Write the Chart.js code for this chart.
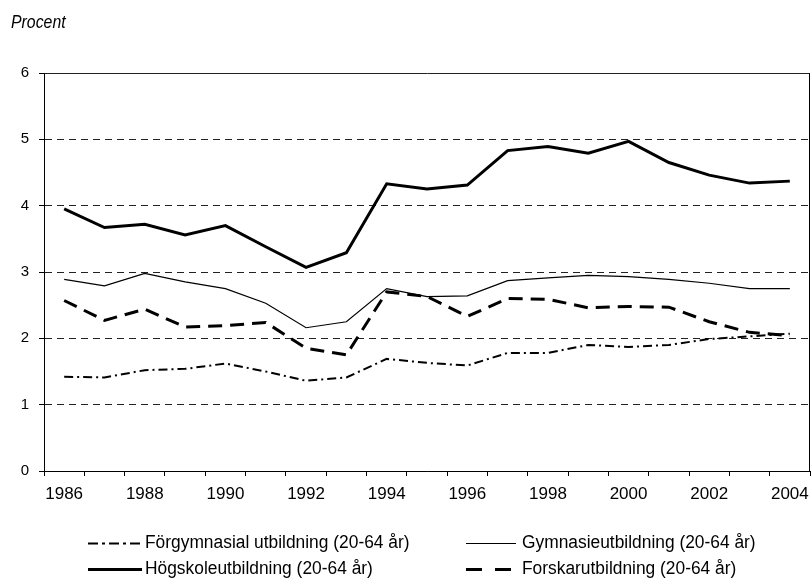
<!DOCTYPE html>
<html>
<head>
<meta charset="utf-8">
<script src="https://cdn.jsdelivr.net/npm/chart.js@4.4.0/dist/chart.umd.min.js"></script>
<style>
  html, body { margin: 0; padding: 0; background: #fff; }
  #wrap { position: relative; width: 811px; height: 579px; }
</style>
</head>
<body>
<div id="wrap"><canvas id="edu-chart"></canvas></div>
<script>
//
// Data
//
const years = ['1986', '1987', '1988', '1989', '1990', '1991', '1992', '1993', '1994', '1995',
    '1996', '1997', '1998', '1999', '2000', '2001', '2002', '2003', '2004'];

const forgymnasial = [1.42, 1.41, 1.52, 1.54, 1.62, 1.50, 1.36, 1.41, 1.69, 1.63,
    1.59, 1.78, 1.78, 1.90, 1.87, 1.90, 1.99, 2.03, 2.07];
const gymnasie = [2.89, 2.79, 2.98, 2.85, 2.75, 2.53, 2.16, 2.25, 2.75, 2.63,
    2.64, 2.87, 2.91, 2.95, 2.93, 2.89, 2.83, 2.75, 2.75];
const hogskole = [3.95, 3.67, 3.72, 3.56, 3.70, 3.38, 3.07, 3.29, 4.33, 4.25,
    4.31, 4.83, 4.89, 4.79, 4.97, 4.65, 4.46, 4.34, 4.37];
const forskar = [2.57, 2.27, 2.44, 2.17, 2.19, 2.24, 1.85, 1.75, 2.70, 2.63,
    2.33, 2.60, 2.59, 2.46, 2.48, 2.47, 2.25, 2.09, 2.04];

const seriesNames = [
    'Förgymnasial utbildning (20-64 år)',
    'Gymnasieutbildning (20-64 år)',
    'Högskoleutbildning (20-64 år)',
    'Forskarutbildning (20-64 år)'
];

const yTicks = [0, 1, 2, 3, 4, 5, 6];

const narrow = "'Liberation Sans Narrow', 'Arial Narrow', 'Liberation Sans', Arial, sans-serif";
const regular = "'Liberation Sans', Arial, sans-serif";

// legend placement (x of line start, line length, text x, row y)
const legendPos = [
    { x: 88, w: 54, tx: 145, y: 543 },
    { x: 466, w: 50, tx: 522, y: 543 },
    { x: 88, w: 54, tx: 145, y: 569 },
    { x: 466, w: 50, tx: 522, y: 569 }
];
const legendDash = [[10, 4, 3, 4], [], [], [16, 13]];

// draws text squeezed a little, the original uses a condensed face
function narrowText(ctx, text, x, y, squeeze) {
    ctx.save();
    ctx.translate(x, y);
    ctx.scale(squeeze, 1);
    ctx.fillText(text, 0, 0);
    ctx.restore();
}

//
// Plugins - title, right border and two column legend
//
const extrasPlugin = {
    id: 'extras',
    afterDraw(chart) {
        const ctx = chart.ctx;
        const area = chart.chartArea;
        ctx.save();

        // right border of the plot
        ctx.strokeStyle = '#000';
        ctx.lineWidth = 1;
        ctx.setLineDash([]);
        ctx.beginPath();
        ctx.moveTo(Math.round(area.right) - 0.5, area.top);
        ctx.lineTo(Math.round(area.right) - 0.5, area.bottom);
        ctx.stroke();

        // "Procent"
        ctx.fillStyle = '#000';
        ctx.font = 'italic 18px ' + narrow;
        ctx.textBaseline = 'middle';
        ctx.textAlign = 'left';
        narrowText(ctx, 'Procent', 11, 23, 0.88);

        // legend
        ctx.font = '18px ' + narrow;
        chart.data.datasets.forEach((ds, i) => {
            const p = legendPos[i];
            ctx.strokeStyle = ds.borderColor;
            ctx.lineWidth = ds.borderWidth;
            ctx.setLineDash(legendDash[i]);
            ctx.beginPath();
            ctx.moveTo(p.x, p.y + 0.5);
            ctx.lineTo(p.x + p.w, p.y + 0.5);
            ctx.stroke();
            narrowText(ctx, ds.label, p.tx, p.y, 0.965);
        });
        ctx.restore();
    }
};

//
// Chart
//
const eduCanvas = document.getElementById('edu-chart');

let eduData = {
    labels: years,
    datasets: [{
        label: seriesNames[0],
        data: forgymnasial,
        borderColor: '#000',
        borderWidth: 2,
        borderDash: [9, 4, 2, 4],
    }, {
        label: seriesNames[1],
        data: gymnasie,
        borderColor: '#000',
        borderWidth: 1.2,
    }, {
        label: seriesNames[2],
        data: hogskole,
        borderColor: '#000',
        borderWidth: 3,
    }, {
        label: seriesNames[3],
        data: forskar,
        borderColor: '#000',
        borderWidth: 3,
        borderDash: [14, 8],
    }]
};

let eduOptions = {
    responsive: true,
    maintainAspectRatio: false,
    animation: false,
    layout: {
        padding: { top: 73, left: 0, right: 1, bottom: 68 }
    },
    elements: {
        point: { radius: 0 },
        line: { tension: 0, fill: false }
    },
    scales: {
        x: {
            type: 'category',
            offset: true,
            afterFit(scale) {
                scale.height = 40;
                scale.paddingLeft = 0;
                scale.paddingRight = 0;
            },
            grid: {
                offset: true,
                drawOnChartArea: false,
                drawTicks: true,
                tickLength: 5,
                color: '#000'
            },
            border: { color: '#000', width: 1 },
            ticks: {
                autoSkip: false,
                maxRotation: 0,
                padding: 8,
                color: '#000',
                font: { family: narrow, size: 17 },
                callback(value, index) {
                    return index % 2 === 0 ? years[index] : '';
                }
            }
        },
        y: {
            min: 0,
            max: 6,
            afterFit(scale) { scale.width = 44; },
            afterBuildTicks(scale) {
                scale.ticks = yTicks.map(v => ({ value: v }));
            },
            grid: {
                color: '#222',
                lineWidth: 1,
                tickLength: 5,
                tickColor: '#000'
            },
            border: {
                color: '#000',
                width: 1,
                dash(ctx) {
                    if (ctx.tick && ctx.tick.value > 0 && ctx.tick.value < 6) {
                        return [7, 5];
                    }
                    return [];
                }
            },
            ticks: {
                padding: 10,
                color: '#000',
                font: { family: regular, size: 15 }
            }
        }
    },
    plugins: {
        legend: { display: false },
        tooltip: { enabled: false }
    }
};

let eduChart = new Chart(eduCanvas, {
    type: 'line',
    data: eduData,
    options: eduOptions,
    plugins: [extrasPlugin]
});
</script>
</body>
</html>
